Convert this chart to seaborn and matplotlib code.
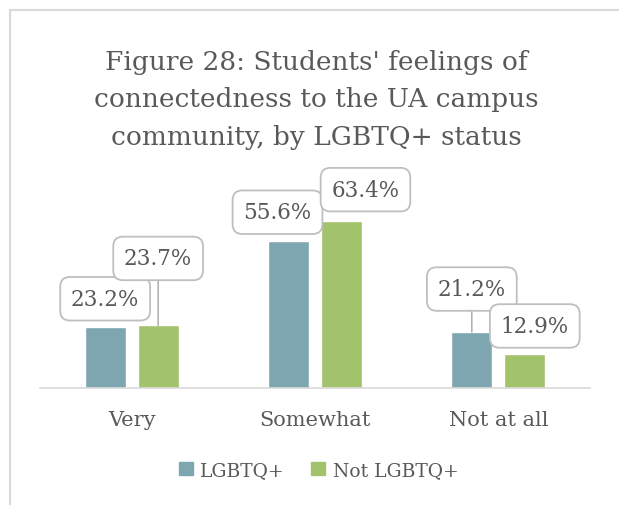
import matplotlib
matplotlib.use('Agg')
import matplotlib.pyplot as plt
import matplotlib.patches as mpatches
import seaborn as sns
import pandas as pd

# data
categories = ['Very', 'Somewhat', 'Not at all']
groups = ['LGBTQ+', 'Not LGBTQ+']
lgbtq = [23.2, 55.6, 21.2]
not_lgbtq = [23.7, 63.4, 12.9]

title_lines = ["Figure 28: Students' feelings of",
               "connectedness to the UA campus",
               "community, by LGBTQ+ status"]

colors = ['#7EA6B0', '#A3C26C']
text_gray = '#595959'

# label box offsets from bar top (pixels), same order as the bars
label_offsets = {
    'LGBTQ+': [(0, 28), (-11, 29), (0, 43)],
    'Not LGBTQ+': [(0, 67), (24, 31), (10, 28)],
}

df = pd.DataFrame({
    'category': categories * 2,
    'group': [groups[0]] * 3 + [groups[1]] * 3,
    'value': lgbtq + not_lgbtq,
})

sns.set_theme(style='white')
plt.rcParams['font.family'] = ['DejaVu Serif']

fig = plt.figure(figsize=(6.19, 5.06), dpi=100)
ax = fig.add_axes([0.0646, 0.2312, 0.8885, 0.3913])

sns.barplot(data=df, x='category', y='value', hue='group', order=categories,
            hue_order=groups, palette=colors, width=0.578, gap=0.225,
            saturation=1, legend=False, ax=ax)

ax.set_xlim(-0.5, 2.5)
ax.set_ylim(0, 75)
ax.set_yticks([])
ax.set_xlabel('')
ax.set_ylabel('')
for s in ['top', 'left', 'right']:
    ax.spines[s].set_visible(False)
ax.spines['bottom'].set_color('#D9D9D9')
ax.spines['bottom'].set_linewidth(1.2)
ax.tick_params(axis='x', length=0, pad=16, labelsize=15, labelcolor=text_gray)

# value callouts, leader line only when the box sits well above the bar
for container, g in zip(ax.containers, groups):
    for bar, (dx, dy) in zip(container, label_offsets[g]):
        x = bar.get_x() + bar.get_width() / 2
        y = bar.get_height()
        arrow = None
        if dy > 35:
            arrow = dict(arrowstyle='-', color='#A6A6A6', lw=1,
                         shrinkA=0, shrinkB=0)
        ax.annotate(f'{y:.1f}%', xy=(x, y), xytext=(dx, dy),
                    textcoords='offset pixels', ha='center', va='center',
                    fontsize=15.5, color=text_gray, annotation_clip=False,
                    bbox=dict(boxstyle='round,pad=0.5,rounding_size=0.45',
                              fc='white', ec='#BFBFBF', lw=1.3),
                    arrowprops=arrow)

# title
for i, line in enumerate(title_lines):
    fig.text(0.5105, 1 - (70 + 37.5 * i) / 506, line, ha='center',
             va='baseline', fontsize=19, color=text_gray)

# legend
handles = [mpatches.Patch(color=c, label=g) for c, g in zip(colors, groups)]
fig.legend(handles=handles, loc='center', bbox_to_anchor=(0.515, 1 - 471 / 506),
           ncol=2, frameon=False, fontsize=13.5, labelcolor=text_gray,
           handlelength=0.75, handleheight=0.75, handletextpad=0.4,
           columnspacing=1.4)

# chart area border (top and left edges visible in the reference)
fig.add_artist(plt.Line2D([10 / 619, 1], [1 - 11 / 506, 1 - 11 / 506],
                          transform=fig.transFigure, color='#D9D9D9', lw=1.5))
fig.add_artist(plt.Line2D([10 / 619, 10 / 619], [0, 1 - 11 / 506],
                          transform=fig.transFigure, color='#D9D9D9', lw=1.5))

fig.savefig('out.png', dpi=100)
